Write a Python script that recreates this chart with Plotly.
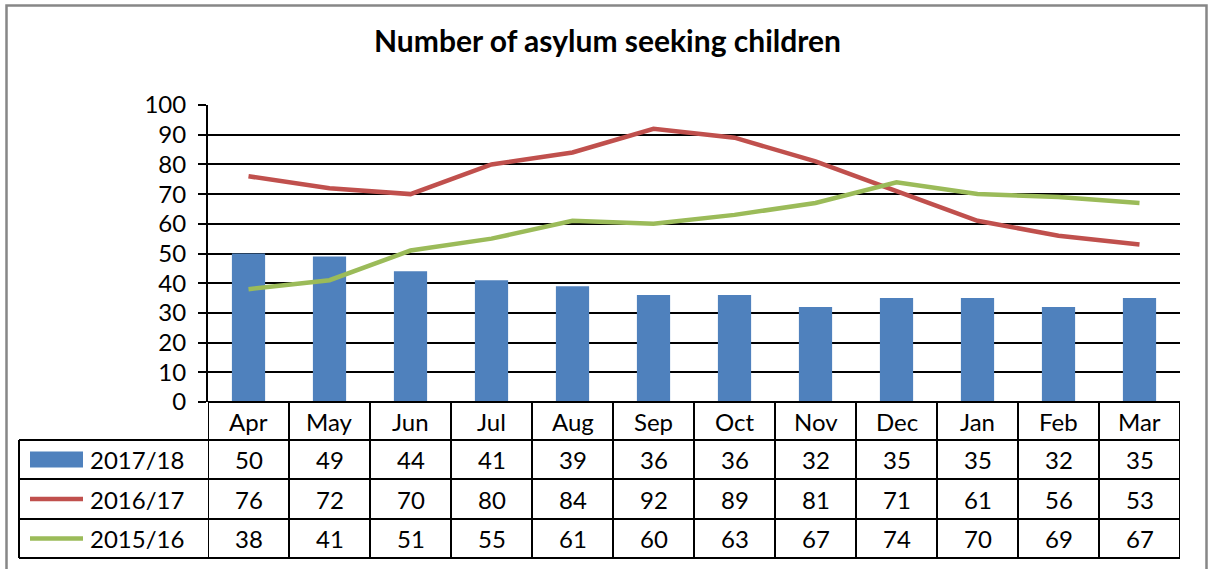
import plotly.graph_objects as go

months = ["Apr", "May", "Jun", "Jul", "Aug", "Sep", "Oct", "Nov", "Dec", "Jan", "Feb", "Mar"]
series_names = ["2017/18", "2016/17", "2015/16"]
v_2017_18 = [50, 49, 44, 41, 39, 36, 36, 32, 35, 35, 32, 35]
v_2016_17 = [76, 72, 70, 80, 84, 92, 89, 81, 71, 61, 56, 53]
v_2015_16 = [38, 41, 51, 55, 61, 60, 63, 67, 74, 70, 69, 67]
y_ticks = [0, 10, 20, 30, 40, 50, 60, 70, 80, 90, 100]
title_text = "Number of asylum seeking children"

BLUE = "#4F81BD"
RED = "#C0504D"
GREEN = "#9BBB59"
FONT = "Lato"

W, H = 1214, 569
L, R, T, B = 208, 1180, 105, 402  # plot area in pixels
PW, PH = R - L, B - T

def px_x(x):
    return (x - L) / PW

def px_y(y):
    return (B - y) / PH

fig = go.Figure()
fig.add_trace(go.Bar(x=months, y=v_2017_18, name=series_names[0], marker_color=BLUE,
                     marker_line_width=0, width=0.41))
fig.add_trace(go.Scatter(x=months, y=v_2016_17, name=series_names[1], mode="lines",
                         line=dict(color=RED, width=4.5)))
fig.add_trace(go.Scatter(x=months, y=v_2015_16, name=series_names[2], mode="lines",
                         line=dict(color=GREEN, width=4.5)))

shapes = []
annotations = []

# outer chart border
shapes.append(dict(type="rect", xref="paper", yref="paper",
                   x0=px_x(6.5), x1=px_x(1206.5), y0=px_y(600), y1=px_y(5.5),
                   line=dict(color="#878787", width=2.5), layer="below"))

# table geometry
row_lines = [402, 440, 479, 519, 558]
tbl_left = 19
lc = "black"
lw = 2
shapes.append(dict(type="line", xref="paper", yref="paper", x0=0, x1=1,
                   y0=px_y(row_lines[0]), y1=px_y(row_lines[0]), line=dict(color=lc, width=lw)))
for yy in row_lines[1:]:
    shapes.append(dict(type="line", xref="paper", yref="paper", x0=px_x(tbl_left), x1=1,
                       y0=px_y(yy), y1=px_y(yy), line=dict(color=lc, width=lw)))
for i in range(len(months) + 1):
    shapes.append(dict(type="line", xref="x", yref="paper", x0=i - 0.5, x1=i - 0.5,
                       y0=px_y(row_lines[0]), y1=px_y(row_lines[-1]), line=dict(color=lc, width=lw)))
shapes.append(dict(type="line", xref="paper", yref="paper", x0=px_x(tbl_left), x1=px_x(tbl_left),
                   y0=px_y(row_lines[1]), y1=px_y(row_lines[-1]), line=dict(color=lc, width=lw)))

fs = 24
hdr_c = (row_lines[0] + row_lines[1]) / 2
for m in months:
    annotations.append(dict(x=m, y=px_y(hdr_c), xref="x", yref="paper", text=m, showarrow=False,
                            font=dict(family=FONT, size=fs, color="black"), xanchor="center", yanchor="middle"))

all_vals = [v_2017_18, v_2016_17, v_2015_16]
colors = [BLUE, RED, GREEN]
for r, (nm, vals, col) in enumerate(zip(series_names, all_vals, colors)):
    yc = (row_lines[r + 1] + row_lines[r + 2]) / 2
    for m, v in zip(months, vals):
        annotations.append(dict(x=m, y=px_y(yc), xref="x", yref="paper", text=str(v), showarrow=False,
                                font=dict(family=FONT, size=fs, color="black"), xanchor="center", yanchor="middle"))
    annotations.append(dict(x=px_x(88), y=px_y(yc), xref="paper", yref="paper", text=nm, showarrow=False,
                            font=dict(family=FONT, size=fs, color="black"), xanchor="left", yanchor="middle"))
    if r == 0:
        shapes.append(dict(type="rect", xref="paper", yref="paper", x0=px_x(30), x1=px_x(83),
                           y0=px_y(yc + 8), y1=px_y(yc - 8), fillcolor=col, line=dict(width=0)))
    else:
        shapes.append(dict(type="line", xref="paper", yref="paper", x0=px_x(30), x1=px_x(83),
                           y0=px_y(yc), y1=px_y(yc), line=dict(color=col, width=4.5)))

annotations.append(dict(x=px_x(607), y=px_y(40), xref="paper", yref="paper", text="<b>" + title_text + "</b>",
                        showarrow=False, font=dict(family=FONT, size=30, color="black"),
                        xanchor="center", yanchor="middle"))

fig.update_layout(
    width=W, height=H,
    margin=dict(l=L, r=W - R, t=T, b=H - B, pad=0),
    paper_bgcolor="white", plot_bgcolor="white",
    showlegend=False,
    shapes=shapes, annotations=annotations,
    font=dict(family=FONT, size=fs, color="black"),
    xaxis=dict(type="category", range=[-0.5, 11.5], showticklabels=False, ticks="",
               showgrid=False, showline=False, zeroline=False, fixedrange=True),
    yaxis=dict(range=[0, 100], tickvals=y_ticks, ticks="outside", ticklen=8, tickwidth=1.5,
               tickcolor="black", showgrid=True, gridcolor="black", gridwidth=1.5,
               showline=True, linecolor="black", linewidth=2, zeroline=False,
               ticklabelstandoff=7, tickfont=dict(family=FONT, size=fs, color="black"), fixedrange=True),
    bargap=0.59,
)

fig.write_html("out.html", config={"displayModeBar": False},
               post_script="document.body.style.margin='0px';document.body.style.overflow='hidden';")
